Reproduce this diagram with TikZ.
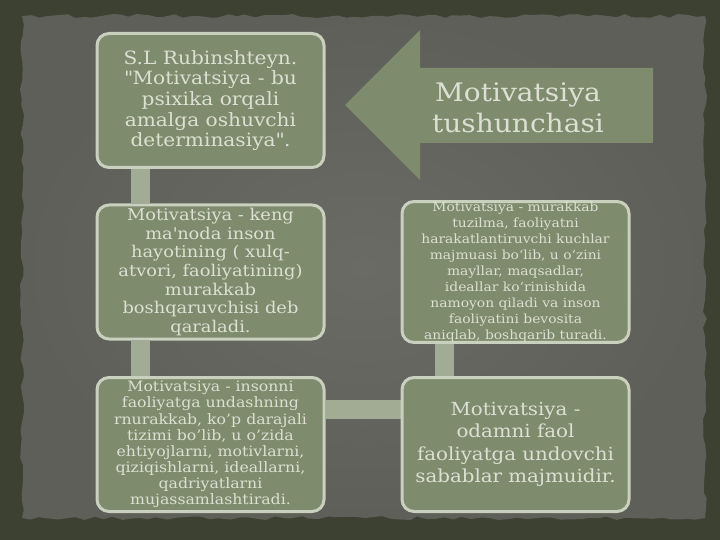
\documentclass[tikz,border=0pt]{standalone}
\usepackage{fontspec}
\setmainfont{DejaVu Serif}[FakeStretch=1.1]
\definecolor{frameDark}{RGB}{61, 65, 50}
\definecolor{slateGray}{RGB}{94, 95, 88}
\definecolor{slateLight}{RGB}{106, 107, 100}
\definecolor{boxGreen}{RGB}{127, 139, 109}
\definecolor{boxRim}{RGB}{202, 208, 190}
\definecolor{linkGreen}{RGB}{162, 171, 148}
\definecolor{paleText}{RGB}{220, 223, 210}
\usetikzlibrary{calc, decorations.pathmorphing}
\pgfdeclarelayer{back}
\pgfdeclarelayer{links}
\pgfsetlayers{back,links,main}
\tikzset{
  motivbox/.style={draw=boxRim, fill=boxGreen, line width=3bp, rounded corners=12bp,
    minimum width=227bp, minimum height=134bp, inner sep=0pt, text=paleText, align=center},
  linkbar/.style={draw=linkGreen, line width=19bp},
  arrowshape/.style={fill=boxGreen}
}

\begin{document}
\begin{tikzpicture}[x=1bp, y=-1bp]
  \useasboundingbox (0,0) rectangle (720,540);

  % Background
  \begin{pgfonlayer}{back}
    \fill[frameDark] (0,0) rectangle (720,540);
    \shade[inner color=slateLight, outer color=slateGray,
      decorate, decoration={random steps, segment length=9bp, amplitude=2bp}]
      (22,16) rectangle (705,518);
  \end{pgfonlayer}

  % === Title arrow ===
  \fill[arrowshape] (345,105) -- (420,30) -- (420,68) -- (653,68) -- (653,143)
    -- (420,143) -- (420,180) -- cycle;
  \node[text=paleText, align=center, font=\fontsize{25.5bp}{31bp}\selectfont] (title) at (518,108)
    {Motivatsiya\\tushunchasi};

  % === Left column ===
  \node[motivbox, font=\fontsize{18.3bp}{20.7bp}\selectfont] (rub) at (210.5,100.5)
    {S.L Rubinshteyn.\\\textquotedbl Motivatsiya - bu\\psixika orqali\\amalga oshuvchi\\determinasiya\textquotedbl.};
  \node[motivbox, font=\fontsize{16.2bp}{18.6bp}\selectfont] (keng) at (210.5,272)
    {Motivatsiya - keng\\ma\textquotesingle noda inson\\hayotining ( xulq-\\atvori, faoliyatining)\\murakkab\\boshqaruvchisi deb\\qaraladi.};
  \node[motivbox, font=\fontsize{14.3bp}{16.1bp}\selectfont] (insonni) at (210.5,444.5)
    {Motivatsiya - insonni\\faoliyatga undashning\\rnurakkab, ko’p darajali\\tizimi bo’lib, u o’zida\\ehtiyojlarni, motivlarni,\\qiziqishlarni, ideallarni,\\qadriyatlarni\\mujassamlashtiradi.};

  % === Right column ===
  \node[motivbox, font=\fontsize{12.6bp}{16.1bp}\selectfont] (tuzilma) at (515.5,272)
    {Motivatsiya - murakkab\\tuzilma, faoliyatni\\harakatlantiruvchi kuchlar\\majmuasi bo‘lib, u o‘zini\\mayllar, maqsadlar,\\ideallar ko‘rinishida\\namoyon qiladi va inson\\faoliyatini bevosita\\aniqlab, boshqarib turadi.};
  \node[motivbox, font=\fontsize{18bp}{22.3bp}\selectfont] (faol) at (515.5,444.5)
    {Motivatsiya -\\odamni faol\\faoliyatga undovchi\\sabablar majmuidir.};

  % Links
  \begin{pgfonlayer}{links}
    \draw[linkbar] ($(rub.south west)+(45,0)$) -- ($(keng.north west)+(45,0)$);
    \draw[linkbar] ($(keng.south west)+(45,0)$) -- ($(insonni.north west)+(45,0)$);
    \draw[linkbar] ($(insonni.north east)+(0,33)$) -- ($(faol.north west)+(0,33)$);
    \draw[linkbar] ($(faol.north west)+(44,0)$) -- ($(tuzilma.south west)+(44,0)$);
  \end{pgfonlayer}
\end{tikzpicture}
\end{document}
